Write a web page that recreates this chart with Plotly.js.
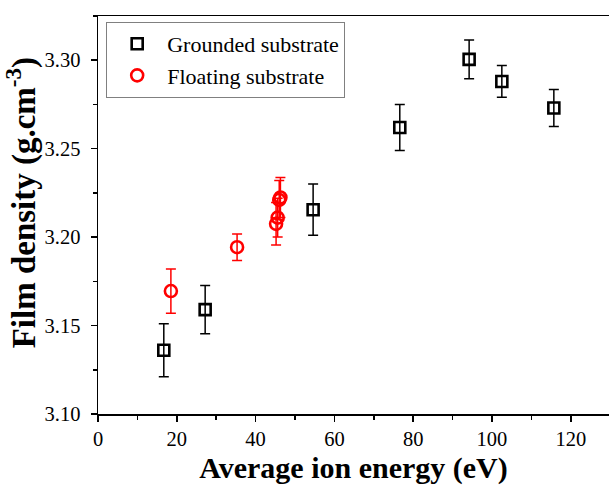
<!DOCTYPE html>
<html>
<head>
<meta charset="utf-8">
<script src="https://cdn.plot.ly/plotly-3.0.1.min.js"></script>
<style>html,body{margin:0;padding:0;background:#fff;}#chart{width:609px;height:492px;}</style>
</head>
<body>
<div id="chart"></div>
<script>
// Grounded substrate
const groundedEnergy = [16.7, 27.2, 54.6, 76.6, 94.2, 102.5, 115.7];
const groundedDensity = [3.136, 3.159, 3.2155, 3.262, 3.3005, 3.288, 3.273];
const groundedError = [0.015, 0.0137, 0.0145, 0.013, 0.011, 0.009, 0.0104];
// Floating substrate
const floatingEnergy = [18.5, 35.3, 45.2, 45.6, 46.0, 46.3];
const floatingDensity = [3.1695, 3.1943, 3.2075, 3.211, 3.221, 3.2224];
const floatingError = [0.0125, 0.0075, 0.012, 0.011, 0.011, 0.0113];

const serif = "Liberation Serif";

const traces = [
  {
    x: groundedEnergy, y: groundedDensity, name: "Grounded substrate",
    type: "scatter", mode: "markers",
    marker: {symbol: "square-open", size: 11, color: "#000", line: {width: 2.6, color: "#000"}},
    error_y: {type: "data", array: groundedError, visible: true, color: "#000", thickness: 1.5, width: 5}
  },
  {
    x: floatingEnergy, y: floatingDensity, name: "Floating substrate",
    type: "scatter", mode: "markers",
    marker: {symbol: "circle-open", size: 12, color: "#ff0000", line: {width: 2.6, color: "#ff0000"}},
    error_y: {type: "data", array: floatingError, visible: true, color: "#ff0000", thickness: 1.5, width: 5}
  }
];

const layout = {
  width: 609, height: 492,
  margin: {l: 98, r: 0, t: 16, b: 78},
  paper_bgcolor: "#fff", plot_bgcolor: "#fff",
  font: {family: serif, color: "#000", size: 20},
  showlegend: true,
  legend: {
    x: 0.016, y: 0.985, xanchor: "left", yanchor: "top",
    bordercolor: "#808080", borderwidth: 1, bgcolor: "#fff",
    font: {family: serif, size: 22, color: "#000"},
    itemwidth: 50, tracegroupgap: 0
  },
  xaxis: {
    range: [0, 129.7], dtick: 20, tick0: 0,
    showline: true, linecolor: "#000", linewidth: 1.5, mirror: true,
    ticks: "outside", ticklen: 6, tickwidth: 1.5, tickcolor: "#000",
    minor: {dtick: 10, ticks: "outside", ticklen: 4, tickwidth: 1.5, tickcolor: "#000"},
    showgrid: false, zeroline: false,
    tickfont: {family: serif, size: 20.5, color: "#000"},
    title: {text: "<b>Average ion energy (eV)</b>", font: {family: serif, size: 30, color: "#000"}, standoff: 8}
  },
  yaxis: {
    range: [3.10, 3.325], dtick: 0.05, tick0: 3.10, tickformat: ".2f",
    showline: true, linecolor: "#000", linewidth: 1.5, mirror: false,
    ticks: "outside", ticklen: 6, tickwidth: 1.5, tickcolor: "#000",
    minor: {dtick: 0.025, ticks: "outside", ticklen: 4, tickwidth: 1.5, tickcolor: "#000"},
    showgrid: false, zeroline: false,
    ticklabelstandoff: 6,
    tickfont: {family: serif, size: 20.5, color: "#000"},
    title: {text: "<b>&nbsp;&nbsp;&nbsp;Film density (g.cm<sup>-3</sup>)</b>", font: {family: serif, size: 33, color: "#000"}, standoff: 0}
  }
};

Plotly.newPlot("chart", traces, layout, {displayModeBar: false, staticPlot: true});
</script>
</body>
</html>
